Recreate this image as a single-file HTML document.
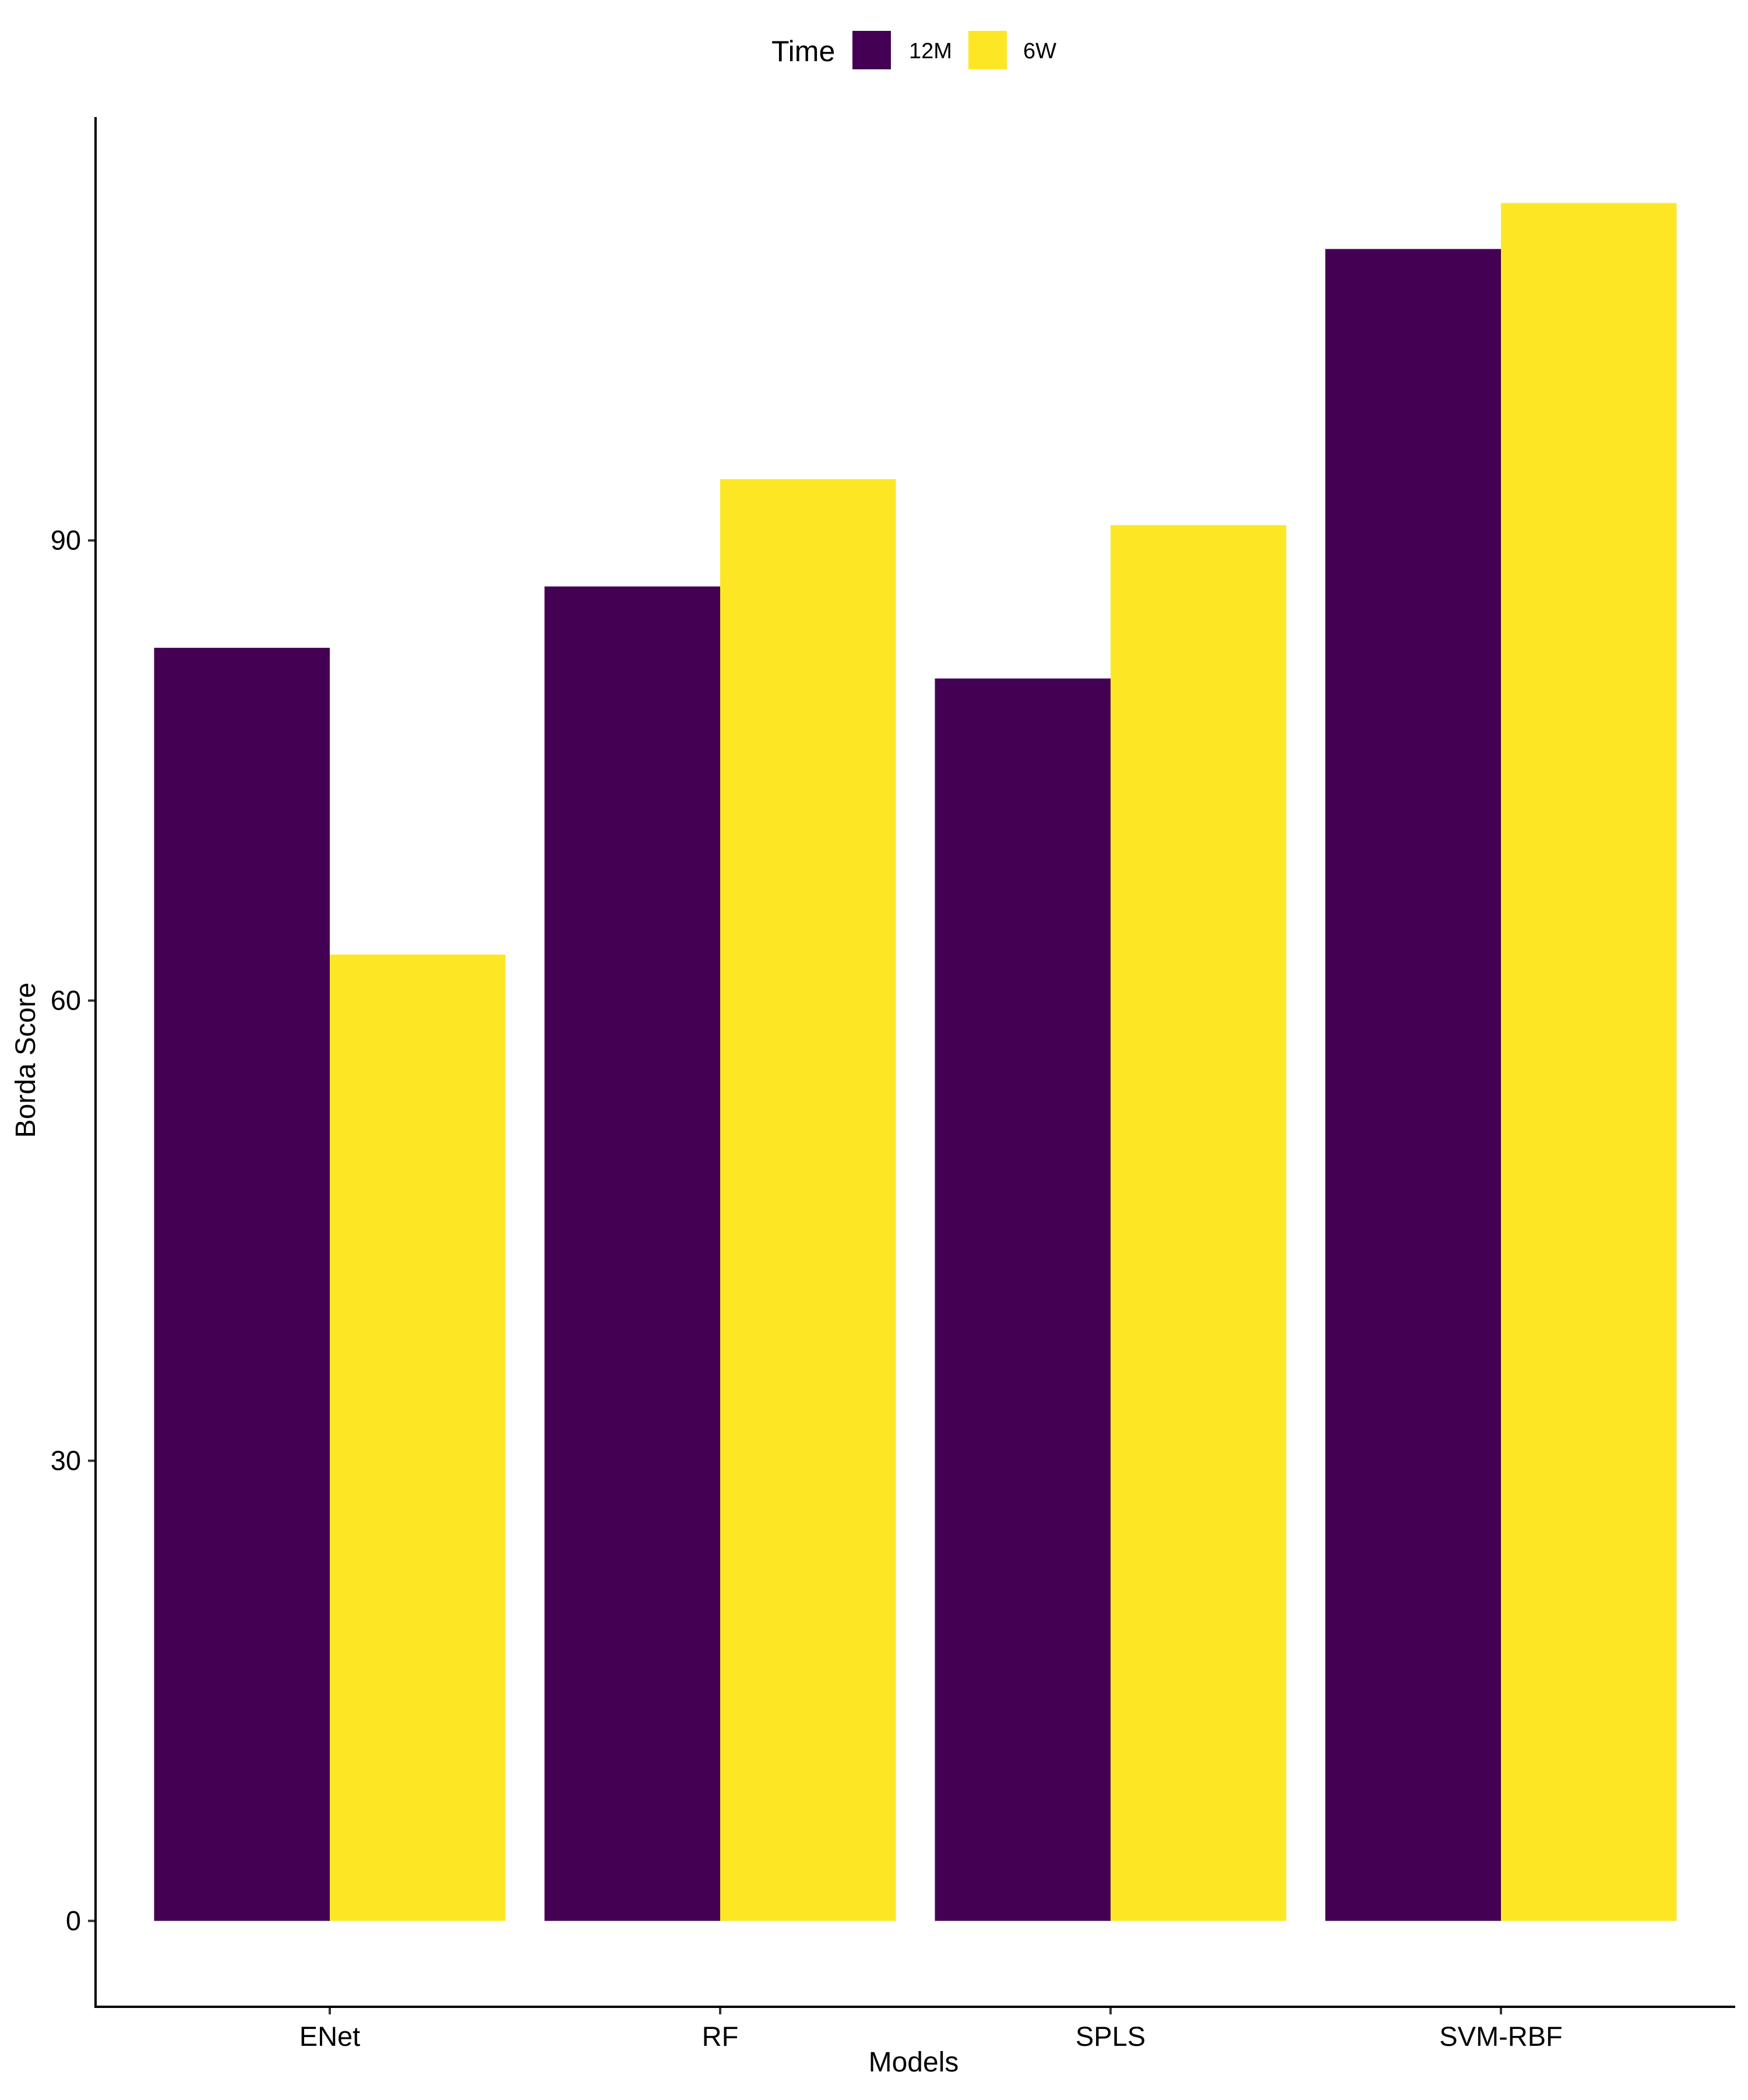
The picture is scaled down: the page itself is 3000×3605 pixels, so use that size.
<!DOCTYPE html>
<html><head><meta charset="utf-8"><style>
html,body{margin:0;padding:0;background:#fff;}
svg text{font-family:"Liberation Sans",Arial,sans-serif;fill:#000;}
</style></head><body>
<svg id="chart" width="3000" height="3600" xmlns="http://www.w3.org/2000/svg">
<g id="bars"></g>
<g id="axes"></g>
<g>
<text x="1324" y="105" font-size="50">Time</text>
<rect x="1463" y="53" width="66" height="66" fill="#440154"/>
<text x="1560" y="100" font-size="38">12M</text>
<rect x="1662" y="53" width="66" height="66" fill="#FDE725"/>
<text x="1756" y="100" font-size="38">6W</text>
</g>
<text x="1568" y="3556" font-size="48" text-anchor="middle">Models</text>
<text x="0" y="0" font-size="48" text-anchor="middle" transform="translate(60,1820) rotate(-90)">Borda Score</text>
</svg>
<script>
const categories = ["ENet","RF","SPLS","SVM-RBF"];
const series12M = [83,87,81,109];
const series6W = [63,94,91,112];
const yTicks = [0,30,60,90];

const NS="http://www.w3.org/2000/svg";
const plotL=164, plotR=2978, plotT=201, plotB=3445;
const yMin=-5.6, yMax=117.6;
function y(v){return plotB-(v-yMin)/(yMax-yMin)*(plotB-plotT);}
const xMin=0.4, xMax=categories.length+0.6;
const unit=(plotR-plotL)/(xMax-xMin);
function xc(i){return plotL+(i+1-xMin)*unit;}
const barW=unit*0.45;
function mk(tag,attrs,parent){const e=document.createElementNS(NS,tag);for(const k in attrs)e.setAttribute(k,attrs[k]);parent.appendChild(e);return e;}
const bars=document.getElementById('bars');
const axes=document.getElementById('axes');
categories.forEach((c,i)=>{
  const b1=mk('rect',{x:xc(i)-barW,y:y(series12M[i]),width:barW,height:y(0)-y(series12M[i]),fill:'#440154'},bars);
  
  
  const b2=mk('rect',{x:xc(i),y:y(series6W[i]),width:barW,height:y(0)-y(series6W[i]),fill:'#FDE725'},bars);
  
  
  const t=mk('line',{x1:xc(i),x2:xc(i),y1:plotB,y2:plotB+13,stroke:'#333','stroke-width':4},axes);
  
  
  const l=mk('text',{x:xc(i),y:3512,'font-size':47,'text-anchor':'middle'},axes);
  l.textContent=c;
  
  
});
yTicks.forEach(v=>{
  const t=mk('line',{x1:151,x2:plotL,y1:y(v),y2:y(v),stroke:'#333','stroke-width':4},axes);
  
  
  const l=mk('text',{x:139,y:y(v)+16,'font-size':47,'text-anchor':'end'},axes);
  l.textContent=v;
  
  
});
const ya=mk('line',{x1:plotL,x2:plotL,y1:plotT,y2:plotB+2,stroke:'#000','stroke-width':4},axes);


const xa=mk('line',{x1:plotL-2,x2:plotR,y1:plotB,y2:plotB,stroke:'#000','stroke-width':4},axes);


</script>
</body></html>
